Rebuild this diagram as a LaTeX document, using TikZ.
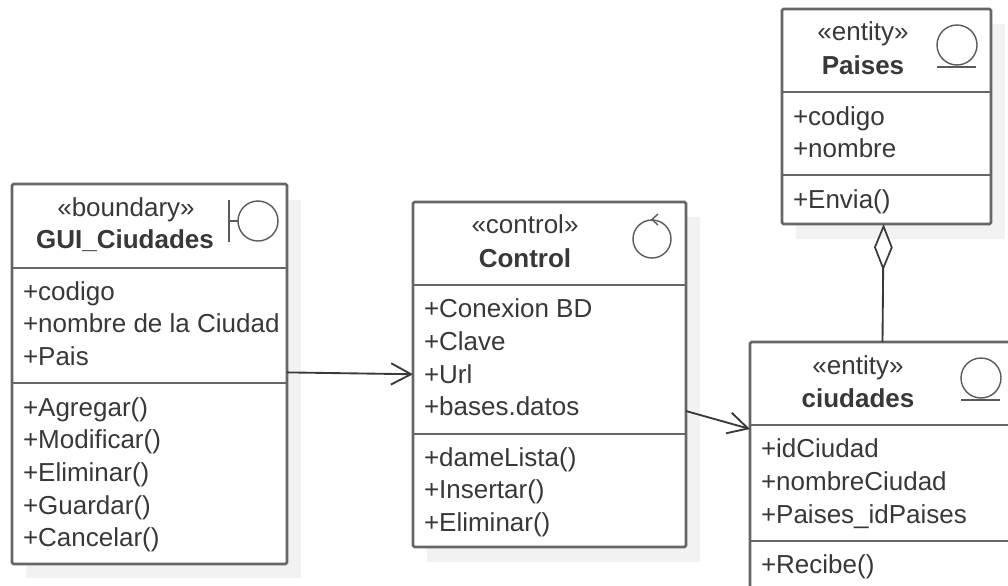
\documentclass[tikz,border=0pt]{standalone}
\usepackage{fontspec}
\setmainfont{Liberation Sans}
\usetikzlibrary{fit,arrows.meta}
\definecolor{boxline}{HTML}{666666}
\definecolor{inktext}{HTML}{383838}
\definecolor{inkline}{HTML}{3A3A3A}
\definecolor{iconline}{HTML}{5A5A5A}
\definecolor{shade}{HTML}{F2F2F2}
\tikzset{
  umlbox/.style={draw=boxline,line width=2pt,rounded corners=1.2pt,fill=white,inner sep=0pt,outer sep=0pt},
  shadowbox/.style={fill=shade,draw=none},
  divider/.style={draw=boxline,line width=2pt},
  member/.style={anchor=base west,inner sep=0pt,outer sep=0pt,text=inktext,font=\fontsize{19.5}{21}\selectfont},
  stereo/.style={anchor=base,inner sep=0pt,outer sep=0pt,text=inktext,font=\fontsize{19.5}{21}\selectfont},
  classname/.style={anchor=base,inner sep=0pt,outer sep=0pt,text=inktext,font=\fontsize{19.5}{21}\selectfont\bfseries},
  icon/.style={draw=iconline,line width=1.05pt},
  link/.style={draw=inkline,line width=1.4pt},
  openhead/.style={-{Straight Barb[length=15pt,width=16pt,line width=1.4pt]}},
  aggregation/.style={{Diamond[open,length=35pt,width=14pt,line width=1.3pt]}-},
}
\begin{document}
\begin{tikzpicture}[x=0.75pt,y=-0.75pt]
\clip (0,0) rectangle (1008,586);
% shadows
\fill[shadowbox] (26,200) rectangle (301,578);
\fill[shadowbox] (427,217) rectangle (700,562);
\fill[shadowbox] (796,24) rectangle (1005,239);
% boxes
\node[umlbox,fit={(12,184)(287,564)}] (gui) {};
\node[umlbox,fit={(413,202)(686,547)}] (ctrl) {};
\node[umlbox,fit={(782,9)(991,224)}] (paises) {};
\node[umlbox,fit={(750,342)(1015,640)}] (ciud) {};
% dividers
\draw[divider] (gui.west |- 0,268) -- (gui.east |- 0,268);
\draw[divider] (gui.west |- 0,383) -- (gui.east |- 0,383);
\draw[divider] (ctrl.west |- 0,285) -- (ctrl.east |- 0,285);
\draw[divider] (ctrl.west |- 0,434) -- (ctrl.east |- 0,434);
\draw[divider] (paises.west |- 0,92) -- (paises.east |- 0,92);
\draw[divider] (paises.west |- 0,175) -- (paises.east |- 0,175);
\draw[divider] (ciud.west |- 0,425) -- (ciud.east |- 0,425);
\draw[divider] (ciud.west |- 0,541) -- (ciud.east |- 0,541);
% GUI_Ciudades
\node[stereo] (guiS) at (126,216) {«boundary»};
\node[classname] (guiN) at (125,248) {GUI\_Ciudades};
\node[member] (g1) at (23,300) {+codigo};
\node[member] (g2) at (23,332.5) {+nombre de la Ciudad};
\node[member] (g3) at (23,365) {+Pais};
\node[member] (g4) at (23,416) {+Agregar()};
\node[member] (g5) at (23,448) {+Modificar()};
\node[member] (g6) at (23,481) {+Eliminar()};
\node[member] (g7) at (23,514) {+Guardar()};
\node[member] (g8) at (23,546) {+Cancelar()};
% Control
\node[stereo] (ctrlS) at (525,233) {«control»};
\node[classname] (ctrlN) at (525,267) {Control};
\node[member] (c1) at (424,317) {+Conexion BD};
\node[member] (c2) at (424,350) {+Clave};
\node[member] (c3) at (424,383) {+Url};
\node[member] (c4) at (424,415) {+bases.datos};
\node[member] (c5) at (424,466) {+dameLista()};
\node[member] (c6) at (424,498) {+Insertar()};
\node[member] (c7) at (424,531) {+Eliminar()};
% Paises
\node[stereo] (paisS) at (863,40) {«entity»};
\node[classname] (paisN) at (863,74) {Paises};
\node[member] (p1) at (793,125) {+codigo};
\node[member] (p2) at (793,157) {+nombre};
\node[member] (p3) at (793,208) {+Envia()};
% ciudades
\node[stereo] (ciudS) at (858,374) {«entity»};
\node[classname] (ciudN) at (858,407) {ciudades};
\node[member] (d1) at (761,457) {+idCiudad};
\node[member] (d2) at (761,490) {+nombreCiudad};
\node[member] (d3) at (761,523) {+Paises\_idPaises};
\node[member] (d4) at (761,573) {+Recibe()};
% icons
\draw[icon] (258,221) circle[radius=20];
\draw[icon] (229,200) -- (229,242);
\draw[icon] (229,221) -- (238,221);
\draw[icon] (652,239) circle[radius=19];
\draw[icon] (658,214) -- (652,219.5) -- (658,225);
\draw[icon] (957,45) circle[radius=20];
\draw[icon] (937,67) -- (976,67);
\draw[icon] (981,378) circle[radius=20];
\draw[icon] (961,400) -- (1000,400);
% connectors
\draw[link,openhead] ([yshift=1.2pt]gui.east) -- ([yshift=0.2pt]ctrl.west);
\draw[link,openhead] ([yshift=-27.4pt]ctrl.east) -- ([yshift=46.5pt]ciud.west);
\draw[link,aggregation] ([xshift=-2.2pt]paises.south) -- (ciud.north);
\end{tikzpicture}
\end{document}
